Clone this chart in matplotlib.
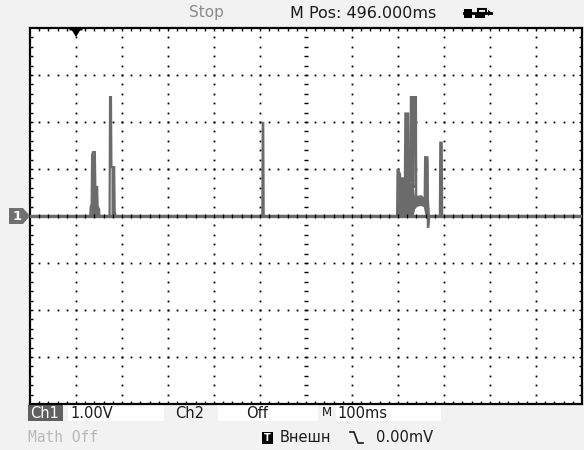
import numpy as np
import matplotlib
matplotlib.use("Agg")
import matplotlib.pyplot as plt
from matplotlib.patches import Rectangle, Polygon

# --- scope settings ---------------------------------------------------------
N_HDIV = 12
N_VDIV = 8
MS_PER_DIV = 100.0   # M 100ms
V_PER_DIV = 1.0      # Ch1 1.00V

# --- captured trace (time in ms from left edge, volts) -----------------------
TRACE_T = [0, 131, 132, 134, 135, 137, 141, 142, 146, 147, 150, 151,
           173, 174, 176, 177, 183, 184, 186,
           505, 506, 507, 508,
           798, 799, 804, 805, 815, 816, 822, 823, 827, 828, 831, 831.5, 834,
           835, 839, 839.5, 850, 858, 859, 864, 865, 866, 868,
           891, 892, 895, 896, 1200]
TRACE_V = [0, 0, 0.2, 0.25, 1.3, 1.36, 1.36, 0.62, 0.62, 0.2, 0.15, 0,
           0, 2.53, 2.53, 1.04, 1.04, 0.1, 0,
           0, 1.98, 1.98, 0,
           0, 1.0, 0.9, 0.8, 0.8, 2.18, 2.18, 0.77, 0.72, 2.53, 2.53, 0.7, 0.6,
           2.53, 2.53, 0.4, 0.42, 0.35, 1.25, 1.25, -0.23, -0.23, 0,
           0, 1.56, 1.56, 0, 0]

# dense (filled) parts of the trace
BURST1_T = [132, 134, 135, 141, 142, 146, 147, 150]
BURST1_TOP = [0.2, 0.25, 1.3, 1.36, 0.62, 0.62, 0.2, 0.15]
BURST1B_T = [176, 177, 183, 184]
BURST1B_TOP = [1.04, 1.04, 1.04, 0.1]
BURST2_T = [799, 804, 805, 815, 816, 822, 823, 827, 831, 834, 836, 840, 845,
            850, 855, 858, 859, 864, 865, 866, 868]
BURST2_TOP = [1.0, 0.9, 0.8, 0.8, 2.18, 2.18, 0.77, 0.72, 0.7, 0.6, 0.4, 0.4,
              0.4, 0.42, 0.4, 0.35, 1.25, 1.25, 1.2, 0.4, 0.1]
BURST2_BOT = [0, 0, 0, 0, 0, 0, 0, 0, 0, 0.05, 0.15, 0.2, 0.22,
              0.22, 0.2, 0.05, 0, -0.05, -0.23, -0.23, 0]

TRIG_POS_MS = 100.0
TRACE_COLOR = "#6b6b6b"
BG = "#f2f2f2"

W, H = 584, 450
SCR = (30, 28, 582, 404)   # left, top, right, bottom in pixels

fig = plt.figure(figsize=(W / 100, H / 100), dpi=100, facecolor=BG)

# pixel overlay for status text
ov = fig.add_axes([0, 0, 1, 1], zorder=0)
ov.set_xlim(0, W)
ov.set_ylim(H, 0)
ov.axis("off")

ax = fig.add_axes([SCR[0] / W, (H - SCR[3]) / H,
                   (SCR[2] - SCR[0]) / W, (SCR[3] - SCR[1]) / H], zorder=1)
xmax = N_HDIV * MS_PER_DIV
ymax = N_VDIV / 2 * V_PER_DIV
ax.set_xlim(0, xmax)
ax.set_ylim(-ymax, ymax)
ax.set_facecolor("white")
ax.set_xticks([])
ax.set_yticks([])
for s in ax.spines.values():
    s.set_linewidth(1.6)
    s.set_color("black")

# graticule dots and ticks
dx = MS_PER_DIV / 5
dy = V_PER_DIV / 5
px_x = xmax / (SCR[2] - SCR[0])
px_y = 2 * ymax / (SCR[3] - SCR[1])
sub_x = np.arange(0, xmax + 1e-6, dx)
sub_y = np.arange(-ymax, ymax + 1e-6, dy)
dot_kw = dict(ls="none", marker="s", ms=1.3, color="black", mew=0)
for k in range(1, N_HDIV):
    if k == N_HDIV // 2:
        continue
    ax.plot(np.full_like(sub_y, k * MS_PER_DIV), sub_y, **dot_kw)
for k in range(1, N_VDIV):
    v = -ymax + k * V_PER_DIV
    if abs(v) < 1e-9:
        continue
    ax.plot(sub_x, np.full_like(sub_x, v), **dot_kw)

tick_kw = dict(color="black", lw=1.0, solid_capstyle="butt")
for x in sub_x[1:-1]:
    ax.plot([x, x], [ymax, ymax - 3 * px_y], **tick_kw)
    ax.plot([x, x], [-ymax, -ymax + 3 * px_y], **tick_kw)
for y in sub_y[1:-1]:
    ax.plot([0, 3 * px_x], [y, y], **tick_kw)
    ax.plot([xmax, xmax - 3 * px_x], [y, y], **tick_kw)
    ax.plot([xmax / 2 - 2.2 * px_x, xmax / 2 + 2.2 * px_x], [y, y], **tick_kw)

# trace
ax.fill_between(BURST1_T, 0, BURST1_TOP, color=TRACE_COLOR, lw=0, zorder=3)
ax.fill_between(BURST1B_T, 0, BURST1B_TOP, color=TRACE_COLOR, lw=0, zorder=3)
ax.fill_between(BURST2_T, BURST2_BOT, BURST2_TOP, color=TRACE_COLOR, lw=0, zorder=3)
ax.plot(TRACE_T, TRACE_V, color=TRACE_COLOR, lw=1.6, zorder=3,
        solid_joinstyle="miter")
ax.axhline(0, color=TRACE_COLOR, lw=2.4, zorder=2.9)

# center ticks on top of the trace baseline
for x in sub_x[1:-1]:
    ax.plot([x, x], [-2.2 * px_y, 2.2 * px_y], zorder=4, **tick_kw)

# markers above the screen frame
ov2 = fig.add_axes([0, 0, 1, 1], zorder=5)
ov2.set_xlim(0, W)
ov2.set_ylim(H, 0)
ov2.axis("off")
ov2.patch.set_alpha(0)

tx = SCR[0] + TRIG_POS_MS / MS_PER_DIV * (SCR[2] - SCR[0]) / N_HDIV
ov2.add_patch(Polygon([[tx - 6.5, 27.5], [tx + 6.5, 27.5], [tx + 6.5, 30.5],
                       [tx + 4, 30.5], [tx, 37], [tx - 4, 30.5],
                       [tx - 6.5, 30.5]], closed=True, color="black", lw=0))

# channel 1 ground marker
gy = (SCR[1] + SCR[3]) / 2
ov2.add_patch(Polygon([[9, gy - 8], [23, gy - 8], [30, gy], [23, gy + 8],
                       [9, gy + 8]], closed=True, color="#707070", lw=0))
ov2.text(17, gy + 0.5, "1", color="white", fontsize=9.5, fontweight="bold",
         ha="center", va="center", family="DejaVu Sans")

# top status line
ov.text(206, 12, "Stop", color="#8a8a8a", fontsize=11, ha="center", va="center")
ov.text(290, 13, "M Pos: 496.000ms", color="#1a1a1a", fontsize=11.5,
        ha="left", va="center")
# usb symbol
ov.plot([464, 491], [13, 13], color="black", lw=2)
ov.add_patch(Rectangle((464, 8.5), 8, 9, color="black", lw=0))
ov.add_patch(Rectangle((478, 8.5), 8, 4, fill=False, ec="black", lw=1.5))
ov.add_patch(Rectangle((475, 14), 10, 4, color="black", lw=0))
ov.add_patch(Polygon([[488, 10], [492, 13], [488, 16]], closed=True,
                     color="black", lw=0))

# bottom status lines
r1, r2 = 413, 438
ov.add_patch(Rectangle((28, 405), 35, 16, color="#606060", lw=0))
ov.add_patch(Rectangle((68, 405), 96, 16, color="white", lw=0))
ov.add_patch(Rectangle((218, 405), 100, 16, color="white", lw=0))
ov.add_patch(Rectangle((336, 405), 105, 16, color="white", lw=0))
txt = dict(fontsize=10.5, va="center", family="DejaVu Sans", color="#1a1a1a")
ov.text(30, r1, "Ch1", **{**txt, "color": "white"})
ov.text(70, r1, "1.00V", **txt)
ov.text(175, r1, "Ch2", **txt)
ov.text(246, r1, "Off", **txt)
ov.text(322, r1, "M", **{**txt, "fontsize": 8.5})
ov.text(337, r1, "100ms", **txt)
ov.text(28, r2, "Math Off", **{**txt, "color": "#b8b8b8", "family": "DejaVu Sans Mono"})
ov.add_patch(Rectangle((262, r2 - 6), 11, 12, color="black", lw=0))
ov.text(267.5, r2, "T", color="white", fontsize=7, fontweight="bold",
        ha="center", va="center")
ov.text(280, r2, "Внешн", **txt)
ov.plot([350, 354, 358, 363], [r2 - 6, r2 - 6, r2 + 5, r2 + 5], color="#1a1a1a", lw=1.2)
ov.text(376, r2, "0.00mV", **txt)

fig.savefig("out.png", dpi=100, facecolor=BG)
